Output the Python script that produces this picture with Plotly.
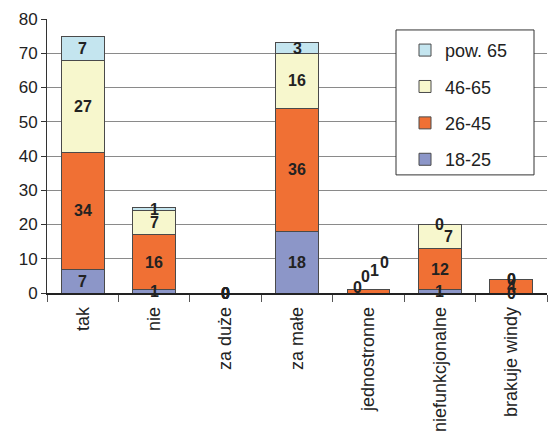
import plotly.graph_objects as go

# Survey answers by age group (rounded counts shown on the bars)
categories = ["tak", "nie", "za duże", "za małe", "jednostronne",
              "niefunkcjonalne", "brakuje windy"]
series_names = ["18-25", "26-45", "46-65", "pow. 65"]
v_18_25 = [7, 1, 0, 18, 0, 1, 0]
v_26_45 = [34, 16, 0, 36, 1, 12, 4]
v_46_65 = [27, 7, 0, 16, 0, 7, 0]
v_pow65 = [7, 1, 0, 3, 0, 0, 0]
y_ticks = [0, 10, 20, 30, 40, 50, 60, 70, 80]

series_values = [v_18_25, v_26_45, v_46_65, v_pow65]
colors = ["#8C96C8", "#F07034", "#F7F7CD", "#C4E5EF"]

fig = go.Figure()
n_series = len(series_names)
for i, (name, vals, col) in enumerate(zip(series_names, series_values, colors)):
    fig.add_trace(go.Bar(
        x=categories, y=vals, name=name, legendgroup=name,
        legendrank=n_series - i,  # oldest group listed first in the legend
        marker=dict(color=col, line=dict(color="#4a4a4a", width=1)),
        width=0.6,
    ))

# Value labels at the middle of each segment (zero segments sit on the stack);
# a few crowded labels are nudged apart
label_shift = {("jednostronne", 0): (-11, 6), ("jednostronne", 1): (6, 21),
               ("jednostronne", 2): (-3, 13), ("jednostronne", 3): (16, 27),
               ("niefunkcjonalne", 2): (9, 0)}
label_font = dict(family="Liberation Sans, Arial", size=16, color="#222222")
for ci, cat in enumerate(categories):
    base = 0
    for si, vals in enumerate(series_values):
        v = vals[ci]
        dx, dy = label_shift.get((cat, si), (0, 0))
        fig.add_annotation(
            x=cat, y=base + v / 2, text=f"<b>{v}</b>", showarrow=False,
            font=label_font, xshift=dx, yshift=dy,
        )
        base += v

# Legend frame drawn as a shape so its size can be set freely
fig.add_shape(type="rect", xref="paper", yref="paper",
              x0=0.698, x1=0.974, y0=0.431, y1=0.96,
              fillcolor="white", line=dict(color="#333333", width=1),
              layer="above")

fig.update_layout(
    width=548, height=444,
    margin=dict(l=47, r=1, t=19, b=151),
    barmode="stack", bargap=0.4,
    plot_bgcolor="white", paper_bgcolor="white",
    font=dict(family="Liberation Sans, Arial", size=16, color="#222222"),
    showlegend=True,
    legend=dict(
        x=0.716, y=0.953, xanchor="left", yanchor="top",
        traceorder="grouped", tracegroupgap=10,
        bgcolor="rgba(0,0,0,0)", borderwidth=0,
        font=dict(size=18, color="#222222"), itemwidth=30,
    ),
    yaxis=dict(
        range=[0, 80], tickvals=y_ticks, showgrid=True,
        gridcolor="#8a8a8a", gridwidth=1,
        showline=True, linecolor="#333333", linewidth=1,
        ticks="outside", ticklen=5, tickcolor="#333333",
        tickfont=dict(size=17, color="#222222"), zeroline=False,
    ),
    xaxis=dict(
        showline=True, linecolor="#222222", linewidth=1.5,
        ticks="outside", tickson="boundaries", ticklen=7, tickcolor="#555555",
        tickangle=-90, tickfont=dict(size=18, color="#222222"),
        ticklabelstandoff=5, range=[-0.5, 6.5],
    ),
)

fig.write_html("out.html")
